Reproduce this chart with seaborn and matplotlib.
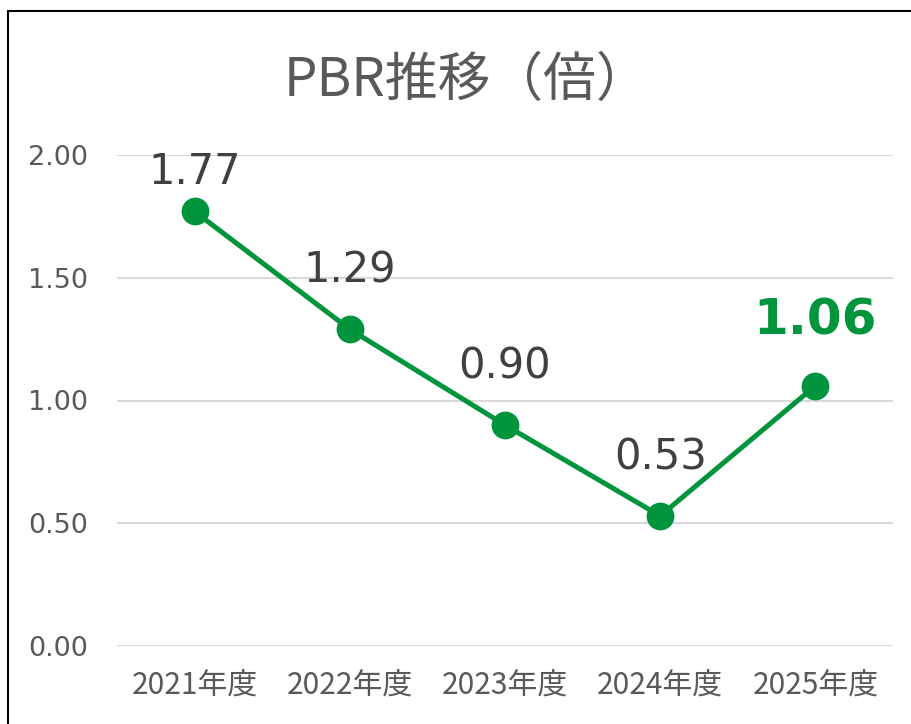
import matplotlib
matplotlib.use("Agg")
import matplotlib.pyplot as plt
import seaborn as sns
import pandas as pd
from matplotlib.patches import Rectangle

# data
years = ["2021年度", "2022年度", "2023年度", "2024年度", "2025年度"]
pbr = [1.77, 1.29, 0.90, 0.53, 1.06]
y_ticks = [0.0, 0.5, 1.0, 1.5, 2.0]

green = "#00943C"
label_grey = "#404040"
tick_grey = "#595959"

sns.set_theme(style="white")
plt.rcParams["font.family"] = ["DejaVu Sans", "Noto Sans CJK JP"]

df = pd.DataFrame({"year": years, "pbr": pbr})

fig = plt.figure(figsize=(9.12, 7.24), dpi=100)
ax = fig.add_axes([117 / 912, 78 / 724, 776 / 912, 491 / 724])

sns.lineplot(data=df, x="year", y="pbr", ax=ax, color=green, linewidth=3.6,
             marker="o", markersize=20, markeredgewidth=0, sort=False)

ax.set_xlim(-0.5, len(years) - 0.5)
ax.set_ylim(0, 2.0)
ax.set_yticks(y_ticks)
ax.set_yticklabels([f"{v:.2f}" for v in y_ticks], fontsize=19.5, color=tick_grey)
ax.set_xticks(range(len(years)))
ax.set_xticklabels(years, fontsize=21.5, color=tick_grey,
                   family=["Noto Sans CJK JP", "DejaVu Sans"])
ax.tick_params(axis="y", length=0, pad=21)
ax.tick_params(axis="x", length=0, pad=18)
ax.yaxis.grid(True, color="#D9D9D9", linewidth=1.5)
ax.xaxis.grid(False)
ax.set_axisbelow(True)
for s in ax.spines.values():
    s.set_visible(False)
ax.set_xlabel("")
ax.set_ylabel("")

# value labels, the last one highlighted
offsets = [13, 27, 27, 27, 30]
for i, v in enumerate(pbr):
    last = i == len(pbr) - 1
    ax.annotate(f"{v:.2f}", (i, v), xytext=(0, offsets[i]), textcoords="offset points",
                ha="center", va="bottom",
                fontsize=36 if last else 30,
                fontweight="bold" if last else "normal",
                color=green if last else label_grey)

fig.text(466 / 912, 1 - 80 / 724, "PBR推移（倍）", ha="center", va="center",
         fontsize=38, color=tick_grey, family=["Noto Sans CJK JP", "DejaVu Sans"])

# chart frame, cut off on the right and bottom
fig.patches.append(Rectangle((8 / 912, -0.1), 1.0, 1 - 11 / 724 + 0.1,
                             transform=fig.transFigure, fill=False,
                             edgecolor="black", linewidth=1.5))

fig.savefig("out.png", dpi=100)
